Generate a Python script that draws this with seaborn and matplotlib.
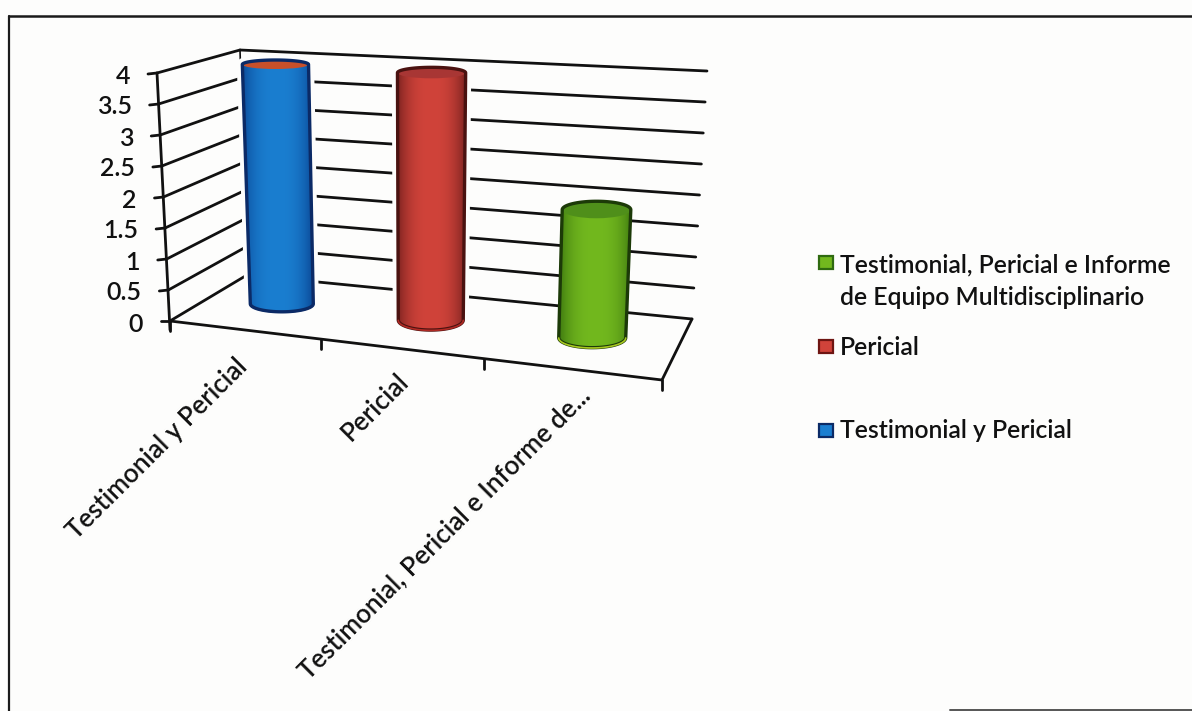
import numpy as np
import pandas as pd
import matplotlib
matplotlib.use("Agg")
import matplotlib.pyplot as plt
import seaborn as sns
from matplotlib.colors import to_rgb
from matplotlib.patches import Rectangle, Ellipse, PathPatch
from matplotlib.path import Path
from matplotlib.transforms import Affine2D, Transform

categories = ["Testimonial y Pericial", "Pericial", "Testimonial, Pericial e Informe de Equipo Multidisciplinario"]
values = [4, 4, 2]
axis_labels = ["Testimonial y Pericial", "Pericial", "Testimonial, Pericial e Informe de..."]
y_ticks = [0, 0.5, 1, 1.5, 2, 2.5, 3, 3.5, 4]
y_tick_labels = ["0", "0.5", "1", "1.5", "2", "2.5", "3", "3.5", "4"]
legend_labels = ["Testimonial, Pericial e Informe\nde Equipo Multidisciplinario", "Pericial", "Testimonial y Pericial"]

W, H = 1192, 711
FONT = "Lato"
BG = "#fdfdfc"
BLUE, RED, GREEN = "#1a7ed0", "#d0433a", "#72b81e"
PALETTE = [BLUE, RED, GREEN]
EDGE = ["#0b2a66", "#4a1210", "#1c3a08"]
RIM = ["#0b2a66", "#b02a24", "#a8c820"]
SIDE = ["#0b4a98", "#7a2220", "#3f7a10"]
CAP = ["#c8502a", "#a83634", "#4f8f1a"]
HALO = [8, 8, 0]
BAR_DEPTH = 0.54

# chart box corners in image pixels (wall / floor / top of the value axis)
FL0, FR0, BL0, BR0 = (170, 321), (662, 380), (247, 275), (692, 319)
FL4, FR4, BL4, BR4 = (157, 73), (672, 105), (240, 50), (707, 71)

sns.set_theme(style="white")
plt.rcParams["font.family"] = [FONT, "DejaVu Sans"]

fig = plt.figure(figsize=(W / 100, H / 100), dpi=100, facecolor=BG)
ax = fig.add_axes([0, 0, 1, 1])

df = pd.DataFrame({"categoria": categories, "valor": values})
sns.barplot(data=df, x="categoria", y="valor", hue="categoria", palette=PALETTE,
            width=0.8, legend=False, saturation=1, ax=ax)
ax.set_xlim(-0.5, 2.5)
ax.set_ylim(0, 4)
ax.set_axis_off()

PX = Affine2D().scale(1, -1).translate(0, H).scale(1 / 100) + fig.dpi_scale_trans


def along(u):
    """Foreshortened position along the category axis (u is a category coordinate)."""
    s = np.asarray(u, float) + 0.5
    return 0.2953 * s / (1 - 0.038 * s)


def project(u, d, v):
    t, d, k = along(u), np.asarray(d, float), np.asarray(v, float) / 4
    out = []
    for i in range(2):
        f0 = FL0[i] + t * (FR0[i] - FL0[i])
        b0 = BL0[i] + t * (BR0[i] - BL0[i])
        f4 = FL4[i] + t * (FR4[i] - FL4[i])
        b4 = BL4[i] + t * (BR4[i] - BL4[i])
        out.append((f0 + d * (b0 - f0)) * (1 - k) + (f4 + d * (b4 - f4)) * k)
    return out[0], out[1]


def half_width(c, v):
    return 31.5 + c + 0.4 * v


class BarTransform(Transform):
    """Seaborn bar (category, value) space -> image pixels of the 3D box."""
    input_dims = output_dims = 2
    has_inverse = False

    def transform_non_affine(self, values):
        a = np.asarray(values, float)
        c = np.round(a[:, 0])
        x, y = project(c, BAR_DEPTH, a[:, 1])
        x = x + (a[:, 0] - c) / 0.4 * half_width(c, a[:, 1])
        return np.column_stack([x, y])


def line(xs, ys, lw=2.0, z=2, color="#111111"):
    ax.plot(xs, ys, color=color, lw=lw, transform=PX, zorder=z, clip_on=False,
            solid_capstyle="round")


top = max(y_ticks)
# back wall grid, side wall grid and value axis
for v in y_ticks:
    k = v / top
    a = [BL0[i] * (1 - k) + BL4[i] * k for i in range(2)]
    b = [BR0[i] * (1 - k) + BR4[i] * k for i in range(2)]
    f = [FL0[i] * (1 - k) + FL4[i] * k for i in range(2)]
    line([a[0], b[0]], [a[1], b[1]])
    line([f[0], a[0]], [f[1], a[1]])
    line([f[0] - 9, f[0]], [f[1] + (1 if v else 0), f[1]])
for v, lab in zip(y_ticks, y_tick_labels):
    k = v / top
    fx = FL0[0] * (1 - k) + FL4[0] * k
    fy = FL0[1] * (1 - k) + FL4[1] * k
    ax.text(fx - 27, fy + 3, lab, ha="right", va="center", fontsize=18, color="#111111",
            transform=PX, fontweight="semibold", zorder=6)
line([BL4[0], BL0[0]], [BL4[1], BL0[1]], lw=1.2)
line([FL4[0], FL0[0]], [FL4[1], FL0[1] + 9])
line([FL0[0], FR0[0]], [FL0[1], FR0[1]])
line([FR0[0], BR0[0]], [FR0[1], BR0[1]])
for u in [-0.5, 0.5, 1.5, 2.5]:
    tx, ty = project(u, 0, 0)
    line([tx, tx], [ty, ty + 10])

RY_TOP = [4.5, 5.5, 8.5]
RY_BOT = [8, 10, 10]
for i, bar in enumerate(ax.patches):
    v = bar.get_height()
    bar.set_transform(BarTransform() + PX)
    bar.set_clip_on(False)
    bar.set_zorder(3)
    bar.set_linewidth(0)
    x0, x1 = bar.get_x(), bar.get_x() + bar.get_width()
    corners = BarTransform().transform(np.array([[x0, 0], [x1, 0], [x1, v], [x0, v]]))
    (blx, bly), (brx, bry), (trx, try_), (tlx, tly) = corners
    th = np.linspace(np.pi, 0, 40)
    bx = (blx + brx) / 2 + (brx - blx) / 2 * np.cos(th)
    by = (bly + bry) / 2 + RY_BOT[i] * np.sin(th)
    ux = (tlx + trx) / 2 + (trx - tlx) / 2 * np.cos(th)
    uy = (tly + try_) / 2 - RY_TOP[i] * np.sin(th)
    # outline: lower arc left to right, then up and over the top back to the left
    verts = np.vstack([np.column_stack([bx, by]),
                       np.column_stack([ux[::-1], uy[::-1]]),
                       [[bx[0], by[0]]]])
    codes = [Path.MOVETO] + [Path.LINETO] * (len(verts) - 2) + [Path.CLOSEPOLY]
    shape = Path(verts, codes)
    if HALO[i]:
        ax.add_patch(PathPatch(shape, facecolor=BG, edgecolor=BG, lw=HALO[i],
                               transform=PX, zorder=2.9, clip_on=False))
    ax.add_patch(PathPatch(shape, facecolor=PALETTE[i], edgecolor="none",
                           transform=PX, zorder=3.1, clip_on=False))
    # horizontal shading across the cylinder
    xs = np.linspace(-1, 1, 128)
    shade = np.abs(xs) ** 2.6
    c0, c1 = np.array(to_rgb(PALETTE[i])), np.array(to_rgb(SIDE[i]))
    img = (c0[None, :] * (1 - shade[:, None]) + c1[None, :] * shade[:, None])[None, :, :]
    left, right = verts[:, 0].min(), verts[:, 0].max()
    low, high = verts[:, 1].max(), verts[:, 1].min()
    im = ax.imshow(img, extent=(left, right, low, high), aspect="auto", zorder=3.2,
                   origin="upper", interpolation="bilinear")
    im.set_transform(PX)
    im.set_clip_path(shape, PX)
    # top cap, soft on its front edge
    ax.add_patch(Ellipse(((tlx + trx) / 2, (tly + try_) / 2), trx - tlx, 2 * RY_TOP[i],
                         facecolor=CAP[i], edgecolor="none", transform=PX,
                         zorder=3.3, clip_on=False))
    ax.add_patch(PathPatch(shape, facecolor="none", edgecolor=EDGE[i], lw=2.4,
                           transform=PX, zorder=3.4, clip_on=False))
    line(bx, by + 0.3, lw=1.2, z=3.5, color=RIM[i])
ax.set_xlim(-0.5, 2.5)
ax.set_ylim(0, 4)

# category labels
LABEL_ANCHORS = [(235, 354), (396, 369), (578, 383)]
for lab, (lx, ly) in zip(axis_labels, LABEL_ANCHORS):
    ax.text(lx, ly, lab, rotation=45, rotation_mode="anchor", ha="right", va="top",
            fontsize=18.6, color="#111111", transform=PX, fontweight="semibold", zorder=6)

# legend
LEG = [(262, 272, GREEN, "#2f6a10"), (346, 355, RED, "#6e1512"), (430, 438, BLUE, "#0b2a66")]
for (my, by, col, ec), lab in zip(LEG, legend_labels):
    ax.add_patch(Rectangle((819, my - 6.5), 14, 13, facecolor=col, edgecolor=ec, lw=1.6,
                           transform=PX, zorder=6, clip_on=False))
    ax.text(840, by, lab.split("\n")[0], fontsize=17.8, fontweight="semibold", color="#111111",
            transform=PX, va="baseline", ha="left", zorder=6)
    if "\n" in lab:
        ax.text(840, by + 33, lab.split("\n")[1], fontsize=17.8, fontweight="semibold",
                color="#111111", transform=PX, va="baseline", ha="left", zorder=6)

# scanned frame: left and top rules, a fragment of the bottom one
line([9, 9], [16, H], lw=1.6, z=1, color="#1a1a1a")
line([9, W], [16, 16], lw=1.8, z=1, color="#1a1a1a")
line([950, W], [710, 710], lw=1.4, z=1, color="#555555")

fig.savefig("out.png", dpi=100, facecolor=fig.get_facecolor())
